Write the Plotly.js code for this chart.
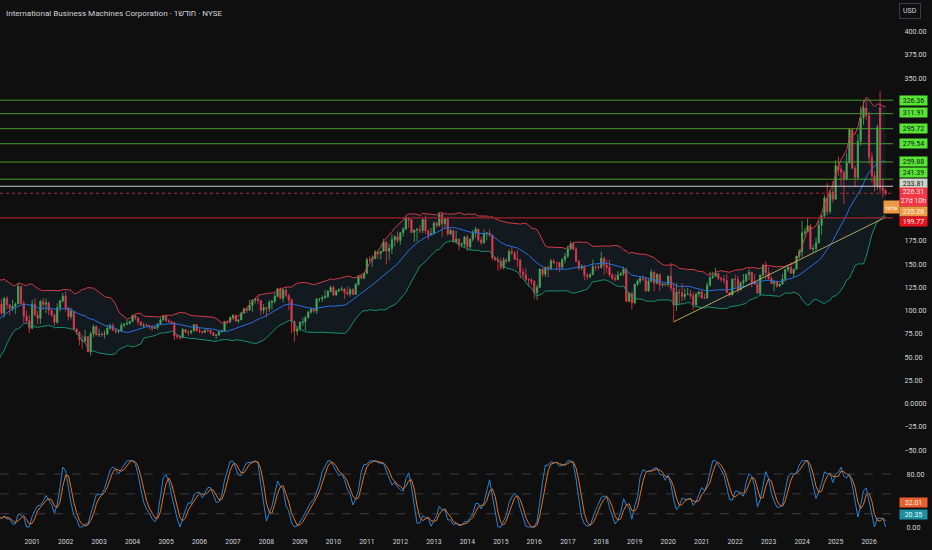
<!DOCTYPE html>
<html><head><meta charset="utf-8">
<script src="https://cdn.plot.ly/plotly-3.0.1.min.js"></script>
<style>html,body{margin:0;padding:0;background:#0f0f0f;}#chart{width:932px;height:550px;}</style>
</head><body><div id="chart"></div>
<script>
// Monthly IBM candles, Jan 1997 .. Jul 2026
const startYear = 1997;
const openP = [
37.8,37.2,32.9,32.8,38.4,41.4,43.1,50.6,48.5,50.6,46.8,51.6,
49.9,46.9,49.7,49.7,55.2,56.2,54.8,63.1,53.6,61.4,70.8,78.9,
88.1,87.5,80.5,84.6,99.9,110.9,123.5,120.0,119.0,115.6,93.9,98.5,
103.0,107.2,97.4,113.1,106.5,102.5,104.7,107.2,126.1,107.5,94.1,89.3,
81.2,107.0,95.4,91.9,109.9,106.8,108.4,100.5,95.4,87.6,103.2,110.4,
115.6,103.0,93.7,99.3,80.0,76.8,68.8,67.2,72.0,55.7,75.3,83.0,
74.0,74.7,74.5,74.9,81.1,84.0,78.8,77.6,78.3,84.3,85.5,86.4,
88.5,94.7,92.2,87.7,84.2,84.6,84.2,83.2,80.9,81.8,85.8,90.0,
94.2,89.2,88.4,87.3,73.0,72.2,70.9,79.7,77.0,76.6,78.2,84.9,
78.5,77.6,76.6,78.8,78.6,76.3,73.3,73.9,77.4,78.2,88.1,87.8,
92.8,94.7,88.8,90.1,97.6,101.8,100.6,105.7,111.4,112.5,110.9,100.5,
103.2,102.3,108.8,109.9,115.3,123.6,113.2,122.2,116.2,111.7,88.8,77.9,
80.4,87.5,87.9,92.5,98.6,101.5,99.7,112.6,112.7,114.2,115.2,120.7,
125.0,116.9,121.5,122.5,123.2,119.7,117.9,122.6,117.6,128.1,137.1,135.1,
140.2,154.7,154.6,155.8,162.9,161.3,163.9,173.7,164.2,167.0,176.3,179.5,
175.6,183.9,187.8,199.3,197.8,184.2,186.8,187.2,186.1,198.2,185.7,181.5,
183.0,194.0,191.8,203.7,193.4,198.6,182.5,186.2,174.1,176.9,171.1,171.6,
179.2,168.7,176.9,183.8,187.7,176.1,173.1,183.1,183.6,181.3,157.0,154.9,
153.2,146.4,154.6,153.3,163.6,162.1,155.4,154.7,141.2,138.5,133.8,133.1,
131.4,119.2,125.1,144.7,139.3,146.8,145.0,153.4,151.7,151.7,146.8,154.9,
158.5,166.6,171.7,166.3,153.1,145.7,146.9,138.2,136.6,138.6,147.2,147.0,
146.5,156.3,148.8,146.5,138.5,134.9,133.4,138.4,139.9,144.4,110.2,118.7,
108.6,128.4,131.9,134.8,134.0,121.3,131.7,141.5,129.4,138.9,127.7,128.4,
128.0,137.2,124.3,105.9,119.9,119.3,115.4,117.4,117.8,116.2,106.7,117.9,
120.2,113.7,113.5,127.3,135.5,137.2,140.0,134.7,134.0,132.6,119.5,116.9,
133.7,133.6,122.5,130.0,132.2,138.8,141.2,130.8,128.5,118.8,138.3,148.9,
140.9,134.7,129.3,131.1,126.4,128.6,133.8,144.2,146.8,140.3,144.6,158.6,
163.6,183.7,185.0,191.0,166.2,166.9,172.9,192.1,202.1,221.1,206.7,227.4,
219.8,255.7,252.4,248.7,241.8,259.0,294.8,253.2,243.5,282.2,307.4,318.0,
310.0,265.0,245.0,234.0,318.0,232.0,229.0];
const highP = [
39.6,38.2,34.9,39.2,42.5,45.4,51.1,51.1,51.4,53.5,52.5,53.5,
50.6,50.4,51.1,55.9,57.3,56.8,64.0,63.5,62.6,71.6,81.2,90.2,
91.7,88.8,86.9,101.2,114.6,125.1,132.7,124.2,121.3,116.5,102.2,113.6,
114.6,112.7,114.6,115.6,107.0,111.7,108.9,128.8,126.5,110.8,100.3,95.0,
111.7,113.2,100.3,111.7,113.6,113.2,109.8,101.7,96.9,107.9,111.7,119.1,
120.7,104.1,103.1,99.8,81.2,77.8,73.5,79.3,72.6,77.4,85.0,84.0,
80.7,77.4,78.8,84.0,86.0,86.3,81.2,79.7,87.4,86.9,90.2,89.3,
95.9,95.5,93.1,88.8,86.9,86.4,85.0,84.0,83.1,86.4,92.6,94.6,
94.5,90.7,88.8,87.9,74.5,74.0,81.3,80.2,78.8,79.3,85.9,85.5,
81.2,78.3,80.2,80.7,78.8,76.4,75.0,78.3,79.3,88.8,89.8,93.5,
96.4,96.0,91.2,98.4,103.1,103.1,111.7,112.1,113.6,116.0,111.3,107.0,
104.1,111.3,111.7,118.4,124.2,125.0,124.2,123.7,118.4,113.0,89.3,83.1,
88.8,92.6,94.5,99.8,103.6,103.1,113.2,113.6,116.5,122.2,122.2,126.9,
126.9,122.2,124.2,126.1,124.2,126.1,125.1,124.2,129.9,137.5,138.5,140.9,
156.9,158.8,159.5,165.2,164.3,164.3,177.2,175.0,171.9,181.9,181.0,185.1,
184.8,190.0,201.2,199.7,198.6,187.2,189.1,192.0,198.9,202.3,187.7,189.1,
196.0,195.8,206.2,204.4,199.6,200.6,188.1,187.2,186.2,177.6,173.8,180.5,
181.5,177.6,186.7,190.2,188.1,179.1,187.8,184.3,187.7,181.9,157.1,158.5,
157.1,157.5,156.6,166.0,168.4,164.3,165.2,154.7,145.2,145.5,134.7,135.6,
133.0,128.0,145.2,146.1,147.1,148.5,155.7,155.7,152.3,152.5,156.6,162.3,
170.0,174.6,172.9,168.4,154.7,149.9,149.0,140.4,140.4,155.2,148.6,149.6,
163.4,158.0,154.8,154.7,140.4,139.4,142.6,141.3,147.5,146.4,119.8,120.2,
128.9,133.7,136.9,137.8,135.1,134.7,144.6,142.2,140.4,140.0,129.8,130.3,
137.5,151.7,130.5,129.8,123.5,129.8,123.7,124.6,122.5,119.8,119.5,121.3,
122.0,118.4,130.8,142.0,141.8,145.9,140.9,136.6,138.2,139.4,119.9,134.9,
138.8,137.5,131.5,139.5,139.8,144.7,141.9,139.3,130.9,138.9,150.5,153.2,
147.2,137.4,131.9,131.5,130.1,139.5,144.9,147.7,151.9,145.0,159.1,166.3,
196.9,188.9,199.2,193.3,171.1,178.5,196.8,202.2,224.2,237.4,230.2,239.4,
261.8,265.7,257.0,250.9,269.3,296.2,296.4,256.0,289.8,319.4,326.0,326.0,
314.0,270.0,250.0,300.0,336.0,242.0,231.0];
const lowP = [
35.8,32.5,30.6,31.0,38.2,40.6,42.5,45.8,46.3,42.0,44.9,47.8,
45.6,46.3,47.3,49.2,54.0,52.5,54.0,50.6,50.1,55.4,69.2,77.4,
83.1,78.3,78.8,83.6,97.4,102.2,114.6,112.7,112.7,84.0,90.7,97.9,
99.8,95.0,92.6,101.2,95.0,99.3,96.5,107.0,107.0,86.4,86.0,76.4,
80.0,94.5,86.0,86.0,100.8,97.4,95.0,93.1,83.6,86.0,99.3,108.9,
99.3,89.8,90.7,79.3,74.0,63.0,59.2,66.9,55.4,51.6,71.6,73.1,
71.6,71.6,69.9,74.0,79.7,78.3,75.4,75.4,77.8,82.1,84.0,85.0,
87.4,89.8,85.0,83.1,81.2,82.6,80.2,78.2,80.2,79.3,85.0,89.3,
87.9,86.9,85.0,68.7,69.2,68.7,70.7,75.9,73.1,74.5,77.8,77.4,
75.4,75.0,76.4,76.9,74.5,72.6,69.5,72.6,76.4,77.8,86.0,86.9,
90.2,88.3,86.4,89.8,96.5,97.4,100.3,98.8,107.9,107.0,95.0,96.5,
92.6,98.4,100.8,107.9,114.6,112.2,108.9,114.6,100.8,75.4,66.4,73.5,
78.1,83.6,78.8,91.7,96.5,97.4,96.5,109.3,109.3,112.2,113.6,119.4,
115.6,116.0,119.9,121.3,112.7,116.5,115.1,116.5,117.0,127.0,133.7,133.7,
139.4,151.8,147.1,155.7,155.7,154.7,163.3,149.9,154.7,160.9,169.0,172.9,
170.9,179.5,186.7,189.1,183.4,173.7,174.8,183.4,183.4,182.4,176.5,181.0,
181.9,188.6,190.0,179.1,189.1,180.5,181.5,172.9,171.9,164.8,168.1,167.9,
164.5,165.8,174.4,178.6,174.0,170.9,171.9,175.7,179.5,153.9,153.3,142.8,
143.7,144.4,150.5,152.3,159.9,154.7,147.1,134.7,135.1,131.4,125.8,128.0,
112.7,111.6,124.2,136.1,136.1,136.1,143.7,149.9,143.3,141.3,144.2,150.9,
156.6,164.7,165.0,152.3,143.1,143.7,132.8,133.2,134.7,138.5,143.2,144.2,
145.2,138.8,140.4,135.9,132.8,131.3,132.7,137.5,137.3,109.0,109.3,101.1,
106.7,126.1,128.9,131.8,120.4,120.4,130.4,121.1,128.2,121.4,125.1,125.7,
125.6,120.7,88.0,99.8,107.2,110.3,111.9,117.1,112.9,101.1,105.1,114.6,
112.7,113.0,113.3,126.1,134.3,136.6,132.7,131.0,128.9,118.9,114.6,116.6,
124.2,118.8,121.5,124.8,130.5,132.9,125.1,127.9,118.6,115.5,136.3,133.9,
132.8,128.3,120.6,124.6,125.7,127.8,131.4,141.4,139.6,135.9,144.4,156.1,
157.9,179.8,184.5,165.7,162.6,163.5,172.6,181.8,199.3,202.4,204.1,216.0,
219.8,245.0,234.4,214.5,240.0,258.1,252.2,233.4,240.4,277.5,300.0,305.0,
258.0,238.0,228.0,230.0,226.0,222.0,224.0];
const closeP = [
37.2,32.9,32.8,38.4,41.4,43.1,50.6,48.5,50.6,46.8,51.6,49.9,
46.9,49.7,49.7,55.2,56.2,54.8,63.1,53.6,61.4,70.8,78.9,88.1,
87.5,80.5,84.6,99.9,110.9,123.5,120.0,119.0,115.6,93.9,98.5,103.0,
107.2,97.4,113.1,106.5,102.5,104.7,107.2,126.1,107.5,94.1,89.3,81.2,
107.0,95.4,91.9,109.9,106.8,108.4,100.5,95.4,87.6,103.2,110.4,115.6,
103.0,93.7,99.3,80.0,76.8,68.8,67.2,72.0,55.7,75.3,83.0,74.0,
74.7,74.5,74.9,81.1,84.0,78.8,77.6,78.3,84.3,85.5,86.4,88.5,
94.7,92.2,87.7,84.2,84.6,84.2,83.2,80.9,81.8,85.8,90.0,94.2,
89.2,88.4,87.3,73.0,72.2,70.9,79.7,77.0,76.6,78.2,84.9,78.5,
77.6,76.6,78.8,78.6,76.3,73.3,73.9,77.4,78.2,88.1,87.8,92.8,
94.7,88.8,90.1,97.6,101.8,100.6,105.7,111.4,112.5,110.9,100.5,103.2,
102.3,108.8,109.9,115.3,123.6,113.2,122.2,116.2,111.7,88.8,77.9,80.4,
87.5,87.9,92.5,98.6,101.5,99.7,112.6,112.7,114.2,115.2,120.7,125.0,
116.9,121.5,122.5,123.2,119.7,117.9,122.6,117.6,128.1,137.1,135.1,140.2,
154.7,154.6,155.8,162.9,161.3,163.9,173.7,164.2,167.0,176.3,179.5,175.6,
183.9,187.8,199.3,197.8,184.2,186.8,187.2,186.1,198.2,185.7,181.5,183.0,
194.0,191.8,203.7,193.4,198.6,182.5,186.2,174.1,176.9,171.1,171.6,179.2,
168.7,176.9,183.8,187.7,176.1,173.1,183.1,183.6,181.3,157.0,154.9,153.2,
146.4,154.6,153.3,163.6,162.1,155.4,154.7,141.2,138.5,133.8,133.1,131.4,
119.2,125.1,144.7,139.3,146.8,145.0,153.4,151.7,151.7,146.8,154.9,158.5,
166.6,171.7,166.3,153.1,145.7,146.9,138.2,136.6,138.6,147.2,147.0,146.5,
156.3,148.8,146.5,138.5,134.9,133.4,138.4,139.9,144.4,110.2,118.7,108.6,
128.4,131.9,134.8,134.0,121.3,131.7,141.5,129.4,138.9,127.7,128.4,128.0,
137.2,124.3,105.9,119.9,119.3,115.4,117.4,117.8,116.2,106.7,117.9,120.2,
113.7,113.5,127.3,135.5,137.2,140.0,134.7,134.0,132.6,119.5,116.9,133.7,
133.6,122.5,130.0,132.2,138.8,141.2,130.8,128.5,118.8,138.3,148.9,140.9,
134.7,129.3,131.1,126.4,128.6,133.8,144.2,146.8,140.3,144.6,158.6,163.6,
183.7,185.0,191.0,166.2,166.9,172.9,192.1,202.1,221.1,206.7,227.4,219.8,
255.7,252.4,248.7,241.8,259.0,294.8,253.2,243.5,282.2,307.4,318.0,310.0,
265.0,245.0,234.0,297.0,232.0,229.0,226.31];

const greenLevels = [326.36, 311.91, 295.72, 279.54, 259.88, 241.39];
const whiteLevel = 233.81;
const lastPrice = 226.31;
const countdown = '27d 10h';
const orangeTag = 225.26;
const redLevel = 199.77;
const trendDates = ['2020-03-01', '2026-07-01'];
const trendPrices = [88.0, 200.5];
const kLast = 20.35, dLast = 32.01;
const yTickVals = [400,375,350,175,150,125,100,75,50,25,0,-25,-50];
const yTickText = ['400.00','375.00','350.00','175.00','150.00','125.00','100.00','75.00','50.00','25.00','0.0000','\u221225.00','\u221250.00'];
const titleText = 'International Business Machines Corporation · 1חודש · NYSE';

// ---- dates (one per month) ----
const N = closeP.length;
const dates = [];
for (let i = 0; i < N; i++) {
  const y = startYear + Math.floor(i / 12), m = (i % 12) + 1;
  dates.push(y + '-' + String(m).padStart(2, '0') + '-01');
}

// ---- indicators computed from the closes ----
function sma(a, n) {
  const out = new Array(a.length).fill(null);
  for (let i = n - 1; i < a.length; i++) {
    let s = 0, ok = true;
    for (let j = i - n + 1; j <= i; j++) { if (a[j] == null) { ok = false; break; } s += a[j]; }
    if (ok) out[i] = s / n;
  }
  return out;
}
const basis = sma(closeP, 20);
const upper = [], lower = [];
for (let i = 0; i < N; i++) {
  if (basis[i] == null) { upper.push(null); lower.push(null); continue; }
  let v = 0;
  for (let j = i - 19; j <= i; j++) v += (closeP[j] - basis[i]) ** 2;
  const sd = Math.sqrt(v / 20);
  upper.push(basis[i] + 2 * sd); lower.push(basis[i] - 2 * sd);
}
function rsiCalc(src, n) {
  const out = new Array(src.length).fill(null);
  let up = 0, dn = 0;
  for (let i = 1; i <= n; i++) { const ch = src[i] - src[i - 1]; up += Math.max(ch, 0); dn += Math.max(-ch, 0); }
  up /= n; dn /= n;
  out[n] = dn === 0 ? 100 : 100 - 100 / (1 + up / dn);
  for (let i = n + 1; i < src.length; i++) {
    const ch = src[i] - src[i - 1];
    up = (up * (n - 1) + Math.max(ch, 0)) / n; dn = (dn * (n - 1) + Math.max(-ch, 0)) / n;
    out[i] = dn === 0 ? 100 : 100 - 100 / (1 + up / dn);
  }
  return out;
}
const rsi = rsiCalc(closeP, 14);
const stoch = new Array(N).fill(null);
for (let i = 27; i < N; i++) {
  let lo = Infinity, hi = -Infinity;
  for (let j = i - 13; j <= i; j++) { lo = Math.min(lo, rsi[j]); hi = Math.max(hi, rsi[j]); }
  stoch[i] = hi === lo ? 0 : 100 * (rsi[i] - lo) / (hi - lo);
}
const kLine = sma(stoch, 3);
const dLine = sma(kLine, 3);

// ---- traces ----
const traces = [
  {x: dates, y: upper, type: 'scatter', mode: 'lines', line: {color: '#d33a48', width: 1}, hoverinfo: 'skip'},
  {x: dates, y: lower, type: 'scatter', mode: 'lines', line: {color: '#168f70', width: 1}, fill: 'tonexty', fillcolor: 'rgba(45,115,180,0.10)', hoverinfo: 'skip'},
  {x: dates, open: openP, high: highP, low: lowP, close: closeP, type: 'candlestick',
   increasing: {line: {color: '#4caf50', width: 0.8}, fillcolor: '#4caf50'},
   decreasing: {line: {color: '#f23645', width: 0.8}, fillcolor: '#f23645'},
   whiskerwidth: 0, hoverinfo: 'skip'},
  {x: dates, y: basis, type: 'scatter', mode: 'lines', line: {color: '#2a6fe0', width: 1}, hoverinfo: 'skip'},
  {x: trendDates, y: trendPrices, type: 'scatter', mode: 'lines', line: {color: '#c4b45a', width: 0.9}, hoverinfo: 'skip'},
  {x: dates, y: kLine, type: 'scatter', mode: 'lines', yaxis: 'y2', line: {color: '#2484d8', width: 1}, hoverinfo: 'skip'},
  {x: dates, y: dLine, type: 'scatter', mode: 'lines', yaxis: 'y2', line: {color: '#e6721e', width: 1}, hoverinfo: 'skip'}
];

// ---- horizontal levels ----
const shapes = [];
greenLevels.forEach(v => shapes.push({type: 'line', xref: 'paper', x0: 0, x1: 1, yref: 'y', y0: v, y1: v, line: {color: '#4a9a30', width: 1}}));
shapes.push({type: 'line', xref: 'paper', x0: 0, x1: 1, yref: 'y', y0: whiteLevel, y1: whiteLevel, line: {color: '#c9cdd3', width: 1}});
shapes.push({type: 'line', xref: 'paper', x0: 0, x1: 1, yref: 'y', y0: lastPrice, y1: lastPrice, line: {color: '#a8303a', width: 1, dash: 'dot'}});
shapes.push({type: 'line', xref: 'paper', x0: 0, x1: 1, yref: 'y', y0: redLevel, y1: redLevel, line: {color: '#a3222b', width: 1.2}});
[80, 50, 20].forEach(v => shapes.push({type: 'line', xref: 'paper', x0: 0, x1: 1, yref: 'y2', y0: v, y1: v, line: {color: '#46484f', width: 0.8, dash: 'dash'}}));

// ---- price tags ----
const FONT = 'Roboto, "Liberation Sans", Arial, sans-serif';
function tag(val, text, bg, fg, yref, dy, h) {
  return {xref: 'paper', x: 1, xanchor: 'left', xshift: 6, yref: yref, y: val, yanchor: 'middle', yshift: dy,
    text: text, showarrow: false, bgcolor: bg, borderpad: 1, width: 25, height: h || 7.4, align: 'center',
    font: {family: FONT, size: 7, color: fg}};
}
const tagShift = [0, 1.5, 0, 0, 1, 6.5];
const annotations = [];
greenLevels.forEach((v, i) => annotations.push(tag(v, v.toFixed(2), '#56e532', '#131722', 'y', tagShift[i])));
annotations.push(tag(whiteLevel, whiteLevel.toFixed(2), '#ccd6c6', '#131722', 'y', 3.2));
annotations.push(tag(lastPrice, lastPrice.toFixed(2) + '<br>' + countdown, '#f23645', '#ffe8ea', 'y', -4, 15.6));
annotations.push(tag(orangeTag, orangeTag.toFixed(2), '#ee9a45', '#fff6ea', 'y', -17.3));
annotations.push(tag(redLevel, redLevel.toFixed(2), '#e3141f', '#ffeaea', 'y', -3.6));
annotations.push({xref: 'paper', x: 1, xanchor: 'left', xshift: -10, yref: 'y', y: trendPrices[1], yanchor: 'middle', yshift: 10,
  text: "ta'ta", showarrow: false, bgcolor: '#ee9a45', borderpad: 1, width: 13, height: 10,
  font: {family: FONT, size: 6, color: '#fff6ea'}});
annotations.push(tag(dLast, dLast.toFixed(2), '#e9602e', '#fff2e8', 'y2', 3.2));
annotations.push(tag(kLast, kLast.toFixed(2), '#1c8fa0', '#e8fbff', 'y2', -0.6));
annotations.push({xref: 'paper', yref: 'paper', x: 0, y: 1, xanchor: 'left', yanchor: 'top', xshift: 4, yshift: -6,
  text: titleText, showarrow: false, font: {family: FONT, size: 8.1, color: '#d1d4dc'}});
annotations.push({xref: 'paper', yref: 'paper', x: 1, y: 1, xanchor: 'left', yanchor: 'top', xshift: 6, yshift: -3,
  text: 'USD', showarrow: false, bgcolor: '#0f0f0f', bordercolor: '#3a3c44', borderwidth: 1, borderpad: 3,
  font: {family: FONT, size: 7, color: '#d1d4dc'}});

const axisFont = {family: FONT, size: 7.2, color: '#d1d4dc'};
const layout = {
  width: 932, height: 550,
  paper_bgcolor: '#0f0f0f', plot_bgcolor: '#0f0f0f',
  margin: {l: 0, r: 39, t: 0, b: 20},
  showlegend: false,
  xaxis: {type: 'date', range: ['2000-01-16', '2026-09-19'], anchor: 'y2', showgrid: false, zeroline: false,
    dtick: 'M12', tick0: '2001-01-01', tickformat: '%Y', ticks: 'outside', ticklen: 5, tickcolor: 'rgba(0,0,0,0)',
    tickfont: {family: FONT, size: 6.8, color: '#d1d4dc'}, rangeslider: {visible: false}, fixedrange: true},
  yaxis: {domain: [0.1415, 1], range: [-55.2, 434.1], side: 'right', anchor: 'x', showgrid: false, zeroline: false,
    tickvals: yTickVals, ticktext: yTickText, ticks: 'outside', ticklen: 9, tickcolor: 'rgba(0,0,0,0)', tickfont: axisFont},
  yaxis2: {domain: [0, 0.136], range: [-4.5, 104.2], side: 'right', anchor: 'x', showgrid: false, zeroline: false,
    tickvals: [0, 80], ticktext: ['0.00', '80.00'], ticks: 'outside', ticklen: 11, tickcolor: 'rgba(0,0,0,0)', tickfont: axisFont},
  shapes: shapes,
  annotations: annotations
};
Plotly.newPlot('chart', traces, layout, {displayModeBar: false, staticPlot: true});
</script></body></html>
